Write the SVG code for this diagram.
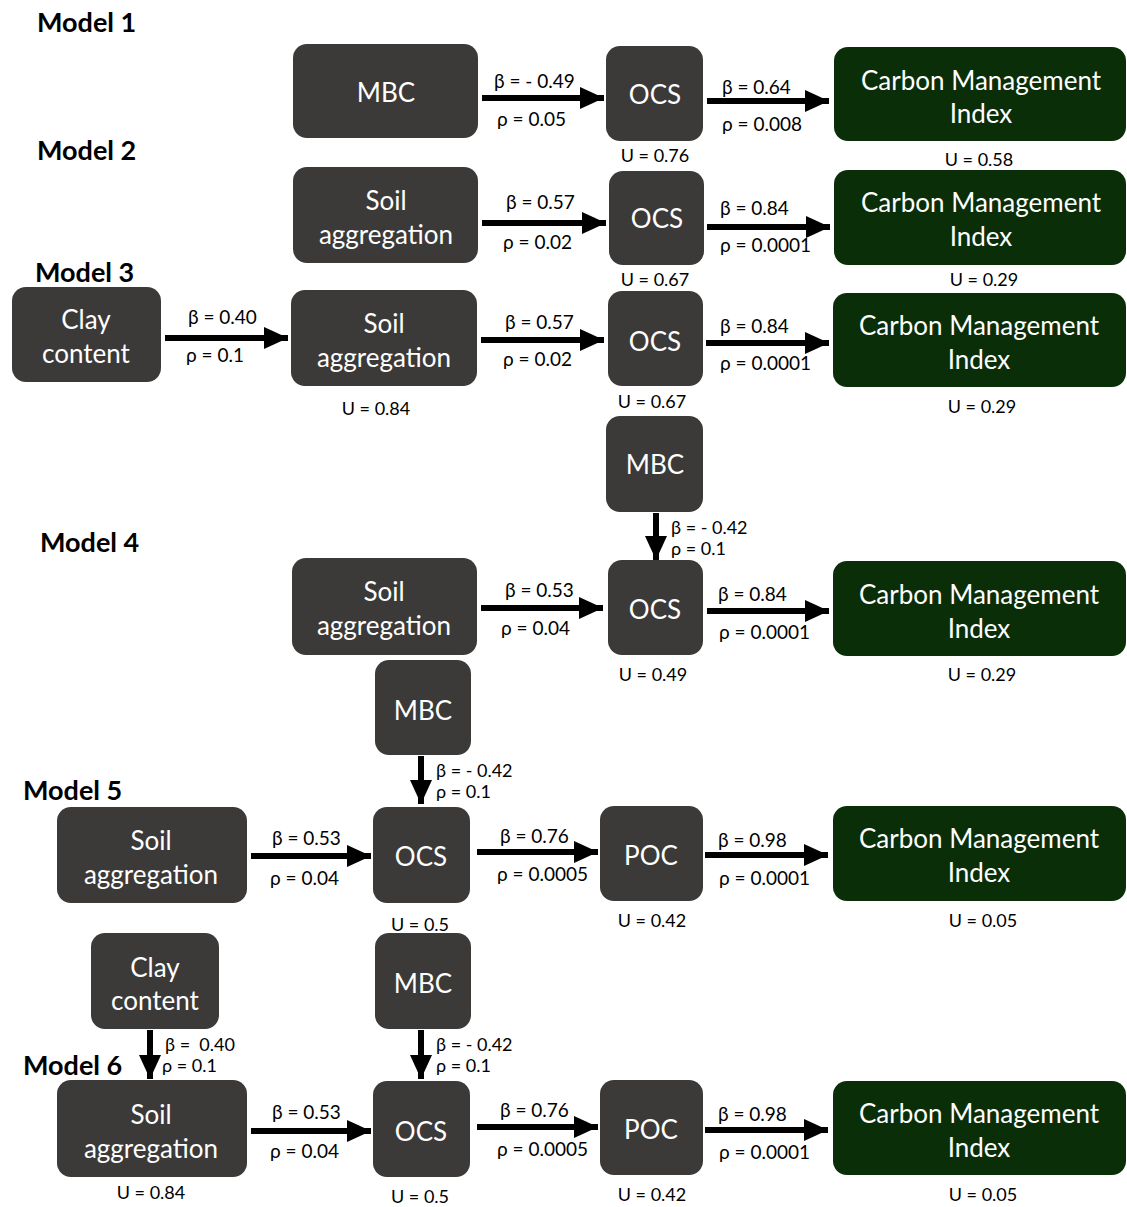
<svg xmlns="http://www.w3.org/2000/svg" width="1127" height="1207" viewBox="0 0 1127 1207">
<style>
.n{fill:#3b3a38}
.g{fill:#0a2e08}
.t{font-family:Lato,"Open Sans",sans-serif;font-size:26px;fill:#ffffff;text-anchor:middle;dominant-baseline:central}
.l{font-family:Lato,"Open Sans",sans-serif;font-size:19px;fill:#000000;dominant-baseline:central}
.s{font-family:Lato,"Open Sans",sans-serif;font-size:18px;fill:#000000;dominant-baseline:central}
.u{font-family:Lato,"Open Sans",sans-serif;font-size:18px;fill:#000000;text-anchor:middle;dominant-baseline:central}
.m{font-family:Lato,"Open Sans",sans-serif;font-size:27px;font-weight:bold;fill:#000000;dominant-baseline:central}
.c{stroke:#000;stroke-width:6;fill:none}
</style>
<defs>
<marker id="ah" markerUnits="userSpaceOnUse" markerWidth="24" markerHeight="22" refX="24" refY="11" orient="auto">
<polygon points="0,0 24,11 0,22" fill="#000"/>
</marker>
</defs>
<rect width="1127" height="1207" fill="#fff"/>

<text class="m" x="37" y="21">Model 1</text>
<text class="m" x="37" y="149">Model 2</text>
<text class="m" x="35" y="271">Model 3</text>
<text class="m" x="40" y="541">Model 4</text>
<text class="m" x="23" y="789">Model 5</text>
<text class="m" x="23" y="1064">Model 6</text>

<!-- Model 1 -->
<g id="m1-mbc"><rect class="n" x="293" y="44" width="185" height="94" rx="14"/><text class="t" x="386" y="92">MBC</text></g>
<g id="m1-ocs"><rect class="n" x="606" y="46" width="97" height="95" rx="14"/><text class="t" x="655" y="94">OCS</text></g>
<g id="m1-cmi"><rect class="g" x="834" y="47" width="292" height="94" rx="14"/><text class="t" x="981" y="80">Carbon Management</text><text class="t" x="981" y="113">Index</text></g>

<!-- Model 2 -->
<g id="m2-sa"><rect class="n" x="293" y="167" width="185" height="96" rx="14"/><text class="t" x="386" y="200">Soil</text><text class="t" x="386" y="234">aggregation</text></g>
<g id="m2-ocs"><rect class="n" x="609" y="171" width="95" height="94" rx="14"/><text class="t" x="657" y="218">OCS</text></g>
<g id="m2-cmi"><rect class="g" x="834" y="170" width="292" height="95" rx="14"/><text class="t" x="981" y="202">Carbon Management</text><text class="t" x="981" y="236">Index</text></g>

<!-- Model 3 -->
<g id="m3-clay"><rect class="n" x="12" y="287" width="149" height="95" rx="14"/><text class="t" x="86" y="319">Clay</text><text class="t" x="86" y="353">content</text></g>
<g id="m3-sa"><rect class="n" x="291" y="290" width="186" height="96" rx="14"/><text class="t" x="384" y="323">Soil</text><text class="t" x="384" y="357">aggregation</text></g>
<g id="m3-ocs"><rect class="n" x="608" y="291" width="95" height="95" rx="14"/><text class="t" x="655" y="341">OCS</text></g>
<g id="m3-cmi"><rect class="g" x="833" y="293" width="293" height="94" rx="14"/><text class="t" x="979" y="325">Carbon Management</text><text class="t" x="979" y="359">Index</text></g>

<!-- Model 4 -->
<g id="m4-mbc"><rect class="n" x="606" y="416" width="97" height="96" rx="14"/><text class="t" x="655" y="464">MBC</text></g>
<g id="m4-sa"><rect class="n" x="292" y="558" width="185" height="97" rx="14"/><text class="t" x="384" y="591">Soil</text><text class="t" x="384" y="625">aggregation</text></g>
<g id="m4-ocs"><rect class="n" x="608" y="560" width="95" height="95" rx="14"/><text class="t" x="655" y="609">OCS</text></g>
<g id="m4-cmi"><rect class="g" x="833" y="561" width="293" height="95" rx="14"/><text class="t" x="979" y="594">Carbon Management</text><text class="t" x="979" y="628">Index</text></g>

<!-- Model 5 -->
<g id="m5-mbc"><rect class="n" x="375" y="660" width="96" height="95" rx="14"/><text class="t" x="423" y="710">MBC</text></g>
<g id="m5-sa"><rect class="n" x="57" y="807" width="190" height="96" rx="14"/><text class="t" x="151" y="840">Soil</text><text class="t" x="151" y="874">aggregation</text></g>
<g id="m5-ocs"><rect class="n" x="373" y="807" width="97" height="96" rx="14"/><text class="t" x="421" y="856">OCS</text></g>
<g id="m5-poc"><rect class="n" x="600" y="806" width="103" height="95" rx="14"/><text class="t" x="651" y="855">POC</text></g>
<g id="m5-cmi"><rect class="g" x="833" y="806" width="293" height="95" rx="14"/><text class="t" x="979" y="838">Carbon Management</text><text class="t" x="979" y="872">Index</text></g>

<!-- Model 6 -->
<g id="m6-clay"><rect class="n" x="91" y="933" width="128" height="96" rx="14"/><text class="t" x="155" y="967">Clay</text><text class="t" x="155" y="1000">content</text></g>
<g id="m6-mbc"><rect class="n" x="375" y="933" width="96" height="96" rx="14"/><text class="t" x="423" y="983">MBC</text></g>
<g id="m6-sa"><rect class="n" x="57" y="1080" width="190" height="97" rx="14"/><text class="t" x="151" y="1114">Soil</text><text class="t" x="151" y="1148">aggregation</text></g>
<g id="m6-ocs"><rect class="n" x="373" y="1081" width="97" height="96" rx="14"/><text class="t" x="421" y="1131">OCS</text></g>
<g id="m6-poc"><rect class="n" x="600" y="1080" width="103" height="95" rx="14"/><text class="t" x="651" y="1129">POC</text></g>
<g id="m6-cmi"><rect class="g" x="833" y="1081" width="293" height="94" rx="14"/><text class="t" x="979" y="1113">Carbon Management</text><text class="t" x="979" y="1147">Index</text></g>

<g id="connectors">
<line class="c" x1="482" y1="98" x2="604" y2="98" marker-end="url(#ah)"/>
<line class="c" x1="707" y1="101" x2="829" y2="101" marker-end="url(#ah)"/>
<line class="c" x1="482" y1="223" x2="606" y2="223" marker-end="url(#ah)"/>
<line class="c" x1="707" y1="227" x2="830" y2="227" marker-end="url(#ah)"/>
<line class="c" x1="165" y1="338" x2="288" y2="338" marker-end="url(#ah)"/>
<line class="c" x1="481" y1="340" x2="604" y2="340" marker-end="url(#ah)"/>
<line class="c" x1="706" y1="343" x2="829" y2="343" marker-end="url(#ah)"/>
<line class="c" x1="656" y1="513" x2="656" y2="560" marker-end="url(#ah)"/>
<line class="c" x1="481" y1="608" x2="603" y2="608" marker-end="url(#ah)"/>
<line class="c" x1="707" y1="611" x2="829" y2="611" marker-end="url(#ah)"/>
<line class="c" x1="421" y1="756" x2="421" y2="804" marker-end="url(#ah)"/>
<line class="c" x1="251" y1="856" x2="371" y2="856" marker-end="url(#ah)"/>
<line class="c" x1="477" y1="852" x2="598" y2="852" marker-end="url(#ah)"/>
<line class="c" x1="705" y1="855" x2="828" y2="855" marker-end="url(#ah)"/>
<line class="c" x1="150" y1="1030" x2="150" y2="1079" marker-end="url(#ah)"/>
<line class="c" x1="421" y1="1030" x2="421" y2="1079" marker-end="url(#ah)"/>
<line class="c" x1="251" y1="1131" x2="371" y2="1131" marker-end="url(#ah)"/>
<line class="c" x1="477" y1="1127" x2="598" y2="1127" marker-end="url(#ah)"/>
<line class="c" x1="705" y1="1130" x2="828" y2="1130" marker-end="url(#ah)"/>
</g>

<g id="labels">
<text class="l" x="494" y="80">β = - 0.49</text><text class="l" x="497" y="118">ρ = 0.05</text>
<text class="l" x="722" y="86">β = 0.64</text><text class="l" x="722" y="123">ρ = 0.008</text>
<text class="u" x="655" y="155">U = 0.76</text><text class="u" x="979" y="159">U = 0.58</text>

<text class="l" x="506" y="201">β = 0.57</text><text class="l" x="503" y="241">ρ = 0.02</text>
<text class="l" x="720" y="207">β = 0.84</text><text class="l" x="720" y="244">ρ = 0.0001</text>
<text class="u" x="655" y="279">U = 0.67</text><text class="u" x="984" y="279">U = 0.29</text>

<text class="l" x="188" y="316">β = 0.40</text><text class="l" x="186" y="354">ρ = 0.1</text>
<text class="l" x="505" y="321">β = 0.57</text><text class="l" x="503" y="358">ρ = 0.02</text>
<text class="l" x="720" y="325">β = 0.84</text><text class="l" x="720" y="362">ρ = 0.0001</text>
<text class="u" x="376" y="408">U = 0.84</text><text class="u" x="652" y="401">U = 0.67</text><text class="u" x="982" y="406">U = 0.29</text>

<text class="s" x="671" y="527">β = - 0.42</text><text class="s" x="671" y="548">ρ = 0.1</text>
<text class="l" x="505" y="589">β = 0.53</text><text class="l" x="501" y="627">ρ = 0.04</text>
<text class="l" x="718" y="593">β = 0.84</text><text class="l" x="719" y="631">ρ = 0.0001</text>
<text class="u" x="653" y="674">U = 0.49</text><text class="u" x="982" y="674">U = 0.29</text>

<text class="s" x="436" y="770">β = - 0.42</text><text class="s" x="436" y="791">ρ = 0.1</text>
<text class="l" x="272" y="837">β = 0.53</text><text class="l" x="270" y="877">ρ = 0.04</text>
<text class="l" x="500" y="835">β = 0.76</text><text class="l" x="497" y="873">ρ = 0.0005</text>
<text class="l" x="718" y="839">β = 0.98</text><text class="l" x="719" y="877">ρ = 0.0001</text>
<text class="u" x="420" y="924">U = 0.5</text><text class="u" x="652" y="920">U = 0.42</text><text class="u" x="983" y="920">U = 0.05</text>

<text class="s" x="165" y="1044" xml:space="preserve">β =  0.40</text><text class="s" x="162" y="1065">ρ = 0.1</text>
<text class="s" x="436" y="1044">β = - 0.42</text><text class="s" x="436" y="1065">ρ = 0.1</text>
<text class="l" x="272" y="1111">β = 0.53</text><text class="l" x="270" y="1150">ρ = 0.04</text>
<text class="l" x="500" y="1109">β = 0.76</text><text class="l" x="497" y="1148">ρ = 0.0005</text>
<text class="l" x="718" y="1113">β = 0.98</text><text class="l" x="719" y="1151">ρ = 0.0001</text>
<text class="u" x="151" y="1192">U = 0.84</text><text class="u" x="420" y="1196">U = 0.5</text><text class="u" x="652" y="1194">U = 0.42</text><text class="u" x="983" y="1194">U = 0.05</text>
</g>
</svg>
